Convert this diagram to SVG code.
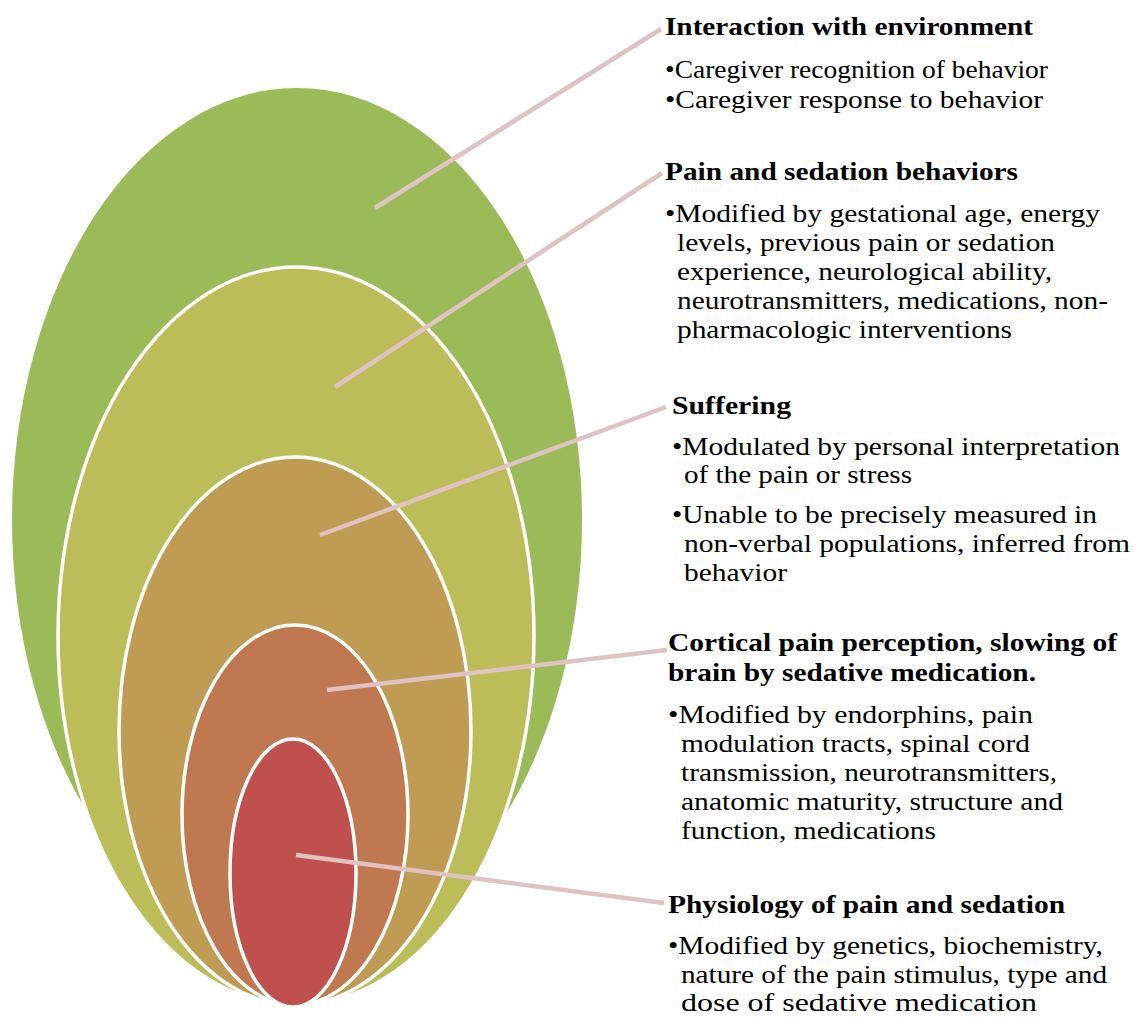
<svg xmlns="http://www.w3.org/2000/svg" width="1134" height="1017" viewBox="0 0 1134 1017">
  <style>
    .ring { stroke: #ffffff; stroke-width: 3.5; }
    .lead { stroke: #e0c2c3; stroke-width: 4.5; stroke-linecap: butt; fill: none; }
    .head { font-family: "Liberation Serif", "Times New Roman", serif; font-weight: bold; font-size: 25.5px; fill: #000000; }
    .body { font-family: "Liberation Serif", "Times New Roman", serif; font-size: 25.5px; fill: #000000; }
  </style>

  <!-- nested layers, outermost first -->
  <g id="layer-environment">
    <ellipse cx="297" cy="520" rx="285" ry="432" fill="#9bbb59"/>
  </g>
  <g id="layer-behaviors">
    <ellipse class="ring" cx="296" cy="636" rx="238" ry="369" fill="#bcbc58"/>
  </g>
  <g id="layer-suffering">
    <ellipse class="ring" cx="295" cy="731" rx="176" ry="274" fill="#bf9b54"/>
  </g>
  <g id="layer-cortical">
    <ellipse class="ring" cx="295" cy="815" rx="113" ry="190" fill="#c07850"/>
  </g>
  <g id="layer-physiology">
    <ellipse class="ring" cx="293" cy="873" rx="63" ry="134" fill="#c0504d"/>
  </g>

  <!-- leader lines from each layer to its description -->
  <g id="connectors">
    <line class="lead" x1="375" y1="208" x2="661" y2="29"/>
    <line class="lead" x1="335" y1="387" x2="662" y2="173"/>
    <line class="lead" x1="320" y1="535" x2="666" y2="407"/>
    <line class="lead" x1="327" y1="690" x2="667" y2="650"/>
    <line class="lead" x1="296" y1="855" x2="664" y2="903"/>
  </g>

  <g id="text-environment">
    <text class="head" x="665" y="35" textLength="368" lengthAdjust="spacingAndGlyphs">Interaction with environment</text>
    <text class="body" x="665" y="78" textLength="383" lengthAdjust="spacingAndGlyphs">•Caregiver recognition of behavior</text>
    <text class="body" x="665" y="108" textLength="378" lengthAdjust="spacingAndGlyphs">•Caregiver response to behavior</text>
  </g>
  <g id="text-behaviors">
    <text class="head" x="665" y="180" textLength="353" lengthAdjust="spacingAndGlyphs">Pain and sedation behaviors</text>
    <text class="body" x="665" y="222" textLength="435" lengthAdjust="spacingAndGlyphs">•Modified by gestational age, energy</text>
    <text class="body" x="677" y="251" textLength="378" lengthAdjust="spacingAndGlyphs">levels, previous pain or sedation</text>
    <text class="body" x="677" y="280" textLength="375" lengthAdjust="spacingAndGlyphs">experience, neurological ability,</text>
    <text class="body" x="677" y="309" textLength="431" lengthAdjust="spacingAndGlyphs">neurotransmitters, medications, non-</text>
    <text class="body" x="677" y="338" textLength="335" lengthAdjust="spacingAndGlyphs">pharmacologic interventions</text>
  </g>
  <g id="text-suffering">
    <text class="head" x="672" y="414" textLength="119" lengthAdjust="spacingAndGlyphs">Suffering</text>
    <text class="body" x="672" y="455" textLength="448" lengthAdjust="spacingAndGlyphs">•Modulated by personal interpretation</text>
    <text class="body" x="684" y="483" textLength="228" lengthAdjust="spacingAndGlyphs">of the pain or stress</text>
    <text class="body" x="672" y="523" textLength="425" lengthAdjust="spacingAndGlyphs">•Unable to be precisely measured in</text>
    <text class="body" x="684" y="552" textLength="446" lengthAdjust="spacingAndGlyphs">non-verbal populations, inferred from</text>
    <text class="body" x="684" y="581" textLength="103" lengthAdjust="spacingAndGlyphs">behavior</text>
  </g>
  <g id="text-cortical">
    <text class="head" x="668" y="651" textLength="449" lengthAdjust="spacingAndGlyphs">Cortical pain perception, slowing of</text>
    <text class="head" x="668" y="681" textLength="368" lengthAdjust="spacingAndGlyphs">brain by sedative medication.</text>
    <text class="body" x="668" y="723" textLength="365" lengthAdjust="spacingAndGlyphs">•Modified by endorphins, pain</text>
    <text class="body" x="681" y="752" textLength="349" lengthAdjust="spacingAndGlyphs">modulation tracts, spinal cord</text>
    <text class="body" x="681" y="781" textLength="376" lengthAdjust="spacingAndGlyphs">transmission, neurotransmitters,</text>
    <text class="body" x="681" y="810" textLength="382" lengthAdjust="spacingAndGlyphs">anatomic maturity, structure and</text>
    <text class="body" x="681" y="839" textLength="255" lengthAdjust="spacingAndGlyphs">function, medications</text>
  </g>
  <g id="text-physiology">
    <text class="head" x="668" y="913" textLength="397" lengthAdjust="spacingAndGlyphs">Physiology of pain and sedation</text>
    <text class="body" x="668" y="954" textLength="435" lengthAdjust="spacingAndGlyphs">•Modified by genetics, biochemistry,</text>
    <text class="body" x="681" y="983" textLength="426" lengthAdjust="spacingAndGlyphs">nature of the pain stimulus, type and</text>
    <text class="body" x="681" y="1011" textLength="356" lengthAdjust="spacingAndGlyphs">dose of sedative medication</text>
  </g>
</svg>
